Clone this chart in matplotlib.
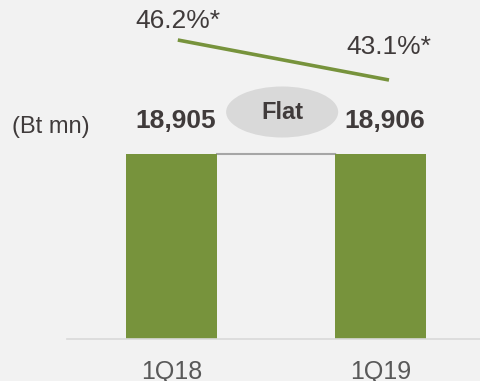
import matplotlib.pyplot as plt
from matplotlib.patches import Ellipse

plt.rcParams['font.family'] = ['Liberation Sans', 'DejaVu Sans']

# data
quarters = ['1Q18', '1Q19']
revenue = [18905, 18906]          # Bt mn
margin = [46.2, 43.1]             # %
value_labels = ['18,905', '18,906']
margin_labels = ['46.2%*', '43.1%*']
change_label = 'Flat'
unit_label = '(Bt mn)'

green = '#77933c'
txt = '#403b3b'
bg = '#f2f2f2'

fig = plt.figure(figsize=(4.81, 3.81), dpi=100, facecolor=bg)
ax = fig.add_axes([67 / 481, 42 / 381, 414 / 481, 339 / 381])
ax.set_facecolor(bg)

x = list(range(len(quarters)))
w = 0.435
bars = ax.bar(x, revenue, width=w, color=green, zorder=2)
ax.set_xlim(-0.5, 1.48)
ax.set_ylim(0, 18905 * 339 / 185)

# connector between bar tops
ax.plot([x[0] + w / 2, x[1] - w / 2], [revenue[0], revenue[1]],
        color='#a6a6a6', lw=1.5, zorder=1)

for xi, v, lab in zip(x, revenue, value_labels):
    ax.annotate(lab, (xi, v), xytext=(4, 33), textcoords='offset pixels',
                ha='center', va='center', fontsize=19, fontweight='bold', color=txt)

# "Flat" bubble
ex = 0.529
ey = 23197
ax.add_patch(Ellipse((ex, ey), 112 / 209, 51 * 18905 / 185,
                     facecolor='#d9d9d9', edgecolor='none', zorder=3))
ax.text(ex, ey - 1 * 18905 / 185, change_label, ha='center', va='center',
        fontsize=17, fontweight='bold', color=txt, zorder=4)

ax.spines[['top', 'right', 'left']].set_visible(False)
ax.spines['bottom'].set_color('#d9d9d9')
ax.spines['bottom'].set_linewidth(1.2)
ax.set_yticks([])
ax.set_xticks(x)
ax.set_xticklabels(quarters, fontsize=18, color='#595959')
ax.tick_params(axis='x', length=0, pad=15)

# margin line on a second scale
ax2 = ax.twinx()
ax2.set_ylim(23.03, 49.30)
ax2.axis('off')
lx = [x[0] + 0.03, x[1] + 0.04]
ax2.plot(lx, margin, color=green, lw=2.6, solid_capstyle='butt')
offs = [19, 33]
for xi, m, lab, o in zip(lx, margin, margin_labels, offs):
    ax2.annotate(lab, (xi, m), xytext=(0, o), textcoords='offset pixels',
                 ha='center', va='center', fontsize=19, color=txt)

fig.text(51 / 481, 1 - 127 / 381, unit_label, ha='center', va='center',
         fontsize=17, color=txt)

fig.savefig('out.png', dpi=100, facecolor=bg)
